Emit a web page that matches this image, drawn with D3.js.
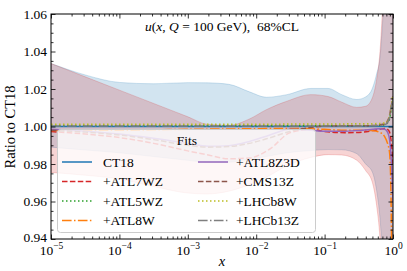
<!DOCTYPE html>
<html><head><meta charset="utf-8">
<script src="https://cdn.jsdelivr.net/npm/d3@7"></script>
<style>
body{margin:0;background:#fff}
svg{display:block}
text{font-family:"Liberation Serif","DejaVu Serif",serif;fill:#000}
</style>
</head><body>
<svg id="c" width="407" height="271"></svg>
<script>
// ---------- DATA (x given as log10 x) ----------
const bandLogX   = [-5,-4.5,-4,-3.5,-3,-2.72,-2.4,-2.1,-1.85,-1.55,-1.2,-0.95,-0.75,-0.53,-0.4,-0.3,-0.24,-0.19,-0.15,-0.1,0];
const ct18BandHi = [1.0336,1.0275,1.0235,1.0228,1.0234,1.0233,1.0225,1.0185,1.0156,1.017,1.0203,1.0203,1.017,1.0144,1.0158,1.0205,1.028,1.037,1.057,1.09,1.2];
const ct18BandLo = [0.989,0.9875,0.986,0.984,0.982,0.981,0.981,0.9825,0.984,0.986,0.9872,0.9877,0.9876,0.9855,0.98,0.9755,0.966,0.951,0.93,0.9,0.8];
const fitBandHi  = [1.0336,1.0265,1.0194,1.0123,1.0052,1.0012,1.0006,1.004,1.009,1.0135,1.017,1.016,1.013,1.0102,1.0108,1.0155,1.025,1.04,1.065,1.1,1.2];
const fitBandLo  = [0.9755,0.974,0.972,0.968,0.9645,0.964,0.9655,0.969,0.973,0.979,0.9835,0.985,0.9848,0.982,0.9765,0.97,0.958,0.94,0.91,0.88,0.8];

const lineLogX = [-5,-4.5,-4,-3.5,-3,-2.7,-2.4,-2.1,-1.8,-1.5,-1.2,-1.0,-0.7,-0.45,-0.3,-0.2,-0.12,-0.08,-0.05,-0.03,-0.01,0];
const valCT18    = [1,1,1,1,1,1,1,1,1,1,1,1,1,1,1,1,1,1,1,1,1,1];
const valATL7WZ  = [0.9973,0.996,0.9941,0.991,0.987,0.9848,0.9828,0.9832,0.988,0.9968,0.9985,0.9973,0.9967,0.997,0.9978,0.9985,0.999,0.9985,0.997,0.993,0.985,0.98];
const valATL5WZ  = [1.0006,1.0006,1.0006,1.0006,1.0006,1.0006,1.0006,1.0006,1.0006,1.0006,1.0006,1.0006,1.0006,1.0006,1.0006,1.0007,1.001,1.002,1.004,1.008,1.012,1.014];
const valATL8W   = [0.9978,0.9979,0.998,0.9982,0.9985,0.9986,0.9987,0.9988,0.9989,0.999,0.9988,0.9985,0.998,0.998,0.9978,0.997,0.9945,0.991,0.986,0.965,0.9,0.85];
const valATL8Z3D = [0.9985,0.9975,0.996,0.9937,0.991,0.9895,0.9898,0.992,0.9955,0.9985,0.998,0.9975,0.9975,0.998,0.9985,0.9988,0.9985,0.997,0.993,0.985,0.97,0.96];
const valCMS13Z  = [0.998,0.997,0.9955,0.993,0.99,0.989,0.9893,0.991,0.994,0.9975,0.9995,1.0002,1.0004,1.0004,1.0005,1.0008,1.0015,1.003,1.006,1.01,1.014,1.016];
const valLHCb8W  = [1.0012,1.0012,1.0012,1.0012,1.0012,1.0012,1.0012,1.0012,1.0012,1.0013,1.0013,1.0013,1.0014,1.0015,1.0015,1.0016,1.002,1.003,1.006,1.01,1.015,1.017];
const valLHCb13Z = [1.0003,1.0003,1.0003,1.0003,1.0003,1.0003,1.0003,1.0003,1.0003,1.0003,1.0003,1.0003,1.0003,1.0003,1.0004,1.0005,1.001,1.002,1.005,1.009,1.013,1.015];

const seriesNames = ["CT18","+ATL7WZ","+ATL5WZ","+ATL8W","+ATL8Z3D","+CMS13Z","+LHCb8W","+LHCb13Z"];
const xMajorTicks = [1e-5,1e-4,1e-3,1e-2,1e-1,1];
const yMajorTicks = [0.94,0.96,0.98,1.00,1.02,1.04,1.06];

// ---------- STYLE ----------
const styles = [
  {vals:valCT18,   color:"#1f77b4", dash:null},
  {vals:valATL7WZ, color:"#d62728", dash:"5.5,2.4"},
  {vals:valATL5WZ, color:"#2ca02c", dash:"1.5,2.5"},
  {vals:valATL8W,  color:"#ff7f0e", dash:"9.6,2.4,1.5,2.4"},
  {vals:valATL8Z3D,color:"#9467bd", dash:null},
  {vals:valCMS13Z, color:"#8c564b", dash:"5.5,2.4"},
  {vals:valLHCb8W, color:"#bcbd22", dash:"1.5,2.5"},
  {vals:valLHCb13Z,color:"#7f7f7f", dash:"9.6,2.4,1.5,2.4"}
];

const svg = d3.select("#c");
const L=51, R=393, T=14, B=239;
const x = d3.scaleLog().domain([1e-5,1]).range([L,R]);
const y = d3.scaleLinear().domain([0.94,1.06]).range([B,T]);

svg.append("defs").append("clipPath").attr("id","clip")
  .append("rect").attr("x",L).attr("y",T).attr("width",R-L).attr("height",B-T);
const plot = svg.append("g").attr("clip-path","url(#clip)");

const area = d3.area().x(d=>x(d.x)).y0(d=>y(d.lo)).y1(d=>y(d.hi)).curve(d3.curveMonotoneX);
function bandData(hi,lo){ return bandLogX.map((lx,i)=>({x:Math.pow(10,lx),hi:hi[i],lo:lo[i]})); }
plot.append("path").datum(bandData(ct18BandHi,ct18BandLo)).attr("d",area)
  .attr("fill","#1f77b4").attr("fill-opacity",0.2).attr("stroke","#1f77b4").attr("stroke-opacity",0.25).attr("stroke-width",0.8);
plot.append("path").datum(bandData(fitBandHi,fitBandLo)).attr("d",area)
  .attr("fill","#d62728").attr("fill-opacity",0.2).attr("stroke","#d62728").attr("stroke-opacity",0.25).attr("stroke-width",0.8);

const line = d3.line().x(d=>x(d.x)).y(d=>y(d.v)).curve(d3.curveMonotoneX);
styles.forEach(s=>{
  plot.append("path").datum(lineLogX.map((lx,i)=>({x:Math.pow(10,lx),v:s.vals[i]})))
    .attr("d",line).attr("fill","none").attr("stroke",s.color).attr("stroke-width",1.5)
    .attr("stroke-dasharray",s.dash);
});

// ---------- AXES ----------
const xMinor = [];
for(let e=-5;e<0;e++) for(let k=2;k<10;k++) xMinor.push(k*Math.pow(10,e));
const yMinor = d3.range(0,25).map(i=>0.94+i*0.005).filter(v=>Math.abs((v*100)%2)>0.1 && Math.abs((v*100)%2-2)>0.1);

function clean(g){ g.select(".domain").remove(); g.selectAll("line").attr("stroke","#000").attr("stroke-width",0.8); }
svg.append("g").attr("transform",`translate(0,${B})`).call(d3.axisBottom(x).tickValues(xMinor).tickSize(-2.5).tickFormat("")).call(clean);
svg.append("g").attr("transform",`translate(0,${T})`).call(d3.axisTop(x).tickValues(xMinor).tickSize(-2.5).tickFormat("")).call(clean);
svg.append("g").attr("transform",`translate(0,${T})`).call(d3.axisTop(x).tickValues(xMajorTicks).tickSize(-4.5).tickFormat("")).call(clean);
const gxb = svg.append("g").attr("transform",`translate(0,${B})`)
  .call(d3.axisBottom(x).tickValues(xMajorTicks).tickSize(-4.5).tickPadding(8)).call(clean);
gxb.selectAll(".tick text").each(function(d){
  const t=d3.select(this); const e=Math.round(Math.log10(d));
  t.text(null).attr("font-size",13.5).attr("y",16).attr("dy",null);
  t.append("tspan").text("10");
  t.append("tspan").attr("font-size",9.5).attr("dy",-6).text(e<0?"\u2212"+(-e):String(e));
});
svg.append("g").attr("transform",`translate(${L},0)`).call(d3.axisLeft(y).tickValues(yMinor).tickSize(-2.5).tickFormat("")).call(clean);
svg.append("g").attr("transform",`translate(${R},0)`).call(d3.axisRight(y).tickValues(yMinor).tickSize(-2.5).tickFormat("")).call(clean);
svg.append("g").attr("transform",`translate(${R},0)`).call(d3.axisRight(y).tickValues(yMajorTicks).tickSize(-4.5).tickFormat("")).call(clean);
const gyl = svg.append("g").attr("transform",`translate(${L},0)`)
  .call(d3.axisLeft(y).tickValues(yMajorTicks).tickSize(-4.5).tickPadding(4).tickFormat(d3.format(".2f"))).call(clean);
gyl.selectAll(".tick text").attr("font-size",13.5).attr("x",-4);
gyl.selectAll(".tick").filter(d=>d===0.94).select("text").attr("dy","0.2em");

svg.append("rect").attr("x",L).attr("y",T).attr("width",R-L).attr("height",B-T)
  .attr("fill","none").attr("stroke","#000").attr("stroke-width",1);

// ---------- LABELS ----------
const title = svg.append("text").attr("x",222).attr("y",31).attr("text-anchor","middle").attr("font-size",13.5)
  .style("white-space","pre");
title.append("tspan").attr("font-style","italic").text("u");
title.append("tspan").text("(");
title.append("tspan").attr("font-style","italic").text("x");
title.append("tspan").text(", ");
title.append("tspan").attr("font-style","italic").text("Q");
title.append("tspan").text(" = 100 GeV),  68%CL");

svg.append("text").attr("transform","translate(15,127) rotate(-90)").attr("text-anchor","middle")
  .attr("font-size",14.5).text("Ratio to CT18");
svg.append("text").attr("x",222).attr("y",266).attr("text-anchor","middle").attr("font-size",14.5)
  .attr("font-style","italic").text("x");

// ---------- LEGEND ----------
const lg = svg.append("g");
lg.append("rect").attr("x",57.5).attr("y",129.5).attr("width",258).attr("height",103).attr("rx",3)
  .attr("fill","#fff").attr("fill-opacity",0.8).attr("stroke","#cccccc").attr("stroke-width",1);
lg.append("text").attr("x",187).attr("y",145).attr("text-anchor","middle").attr("font-size",13.5).text("Fits");
seriesNames.forEach((n,i)=>{
  const col=Math.floor(i/4), row=i%4;
  const hx = col===0?62:198, tx = col===0?103:236;
  const ry = 162 + row*19.5;
  lg.append("line").attr("x1",hx).attr("x2",hx+30).attr("y1",ry).attr("y2",ry)
    .attr("stroke",styles[i].color).attr("stroke-width",1.5).attr("stroke-dasharray",styles[i].dash);
  lg.append("text").attr("x",tx).attr("y",ry+4.8).attr("font-size",13.5).text(n);
});
</script>
</body></html>
